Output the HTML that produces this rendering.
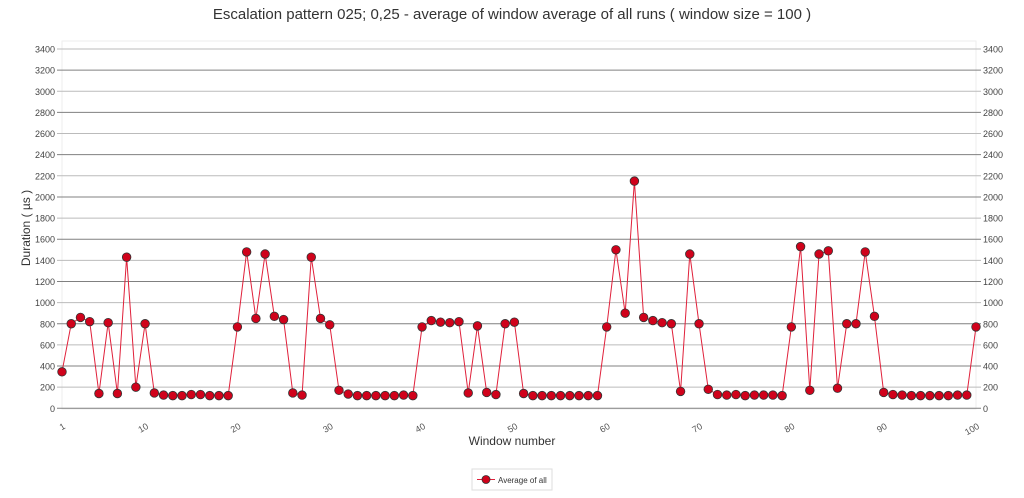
<!DOCTYPE html>
<html><head><meta charset="utf-8"><style>
body{margin:0;background:#fff;font-family:"Liberation Sans",sans-serif}
</style></head><body>
<svg id="s" width="1024" height="493" xmlns="http://www.w3.org/2000/svg" font-family="Liberation Sans, sans-serif">
<text x="512" y="19" text-anchor="middle" font-size="15" fill="#333">Escalation pattern 025; 0,25 - average of window average of all runs ( window size = 100 )</text>
<rect x="62" y="41" width="914" height="368" fill="none" stroke="#eee"/>
<g id="grid"></g>
<g id="ser"></g>
<text x="512" y="445" text-anchor="middle" font-size="12" fill="#333">Window number</text>
<text transform="translate(30,228) rotate(-90)" text-anchor="middle" font-size="12" fill="#333">Duration ( µs )</text>
<rect x="472" y="469" width="80" height="21" fill="#fff" stroke="#ddd"/>
<line x1="477" y1="479.5" x2="495" y2="479.5" stroke="#e0203a" stroke-width="1"/>
<circle cx="486" cy="479.5" r="4" fill="#d0021b" stroke="#333" stroke-width="0.8"/>
<text x="498" y="483" font-size="8" fill="#333">Average of all</text>
</svg>
<script>
var NS="http://www.w3.org/2000/svg";
function el(t,a,p,txt){var e=document.createElementNS(NS,t);for(var k in a)e.setAttribute(k,a[k]);if(txt!=null)e.textContent=txt;p.appendChild(e);return e;}
var g=document.getElementById('grid'),s=document.getElementById('ser');
var y0=408.3,k=359.3/3400;
function Y(v){return y0-v*k;}
for(var v=0;v<=3400;v+=200){var y=Y(v);
el('line',{x1:57,x2:981,y1:y,y2:y,stroke:(v/200)%2?'#bbb':'#808080','stroke-width':1},g);
el('text',{x:55,y:y+3.5,'text-anchor':'end','font-size':9,fill:'#444'},g,v);
el('text',{x:983,y:y+3.5,'font-size':9,fill:'#444'},g,v);}
var d=[345,800,860,820,140,810,140,1430,200,800,145,125,120,120,130,130,120,120,120,770,1480,850,1460,870,840,145,125,1430,850,790,170,135,120,120,120,120,120,125,120,770,830,815,810,820,145,780,150,130,800,815,140,120,120,120,120,120,120,120,120,770,1500,900,2150,860,830,810,800,160,1460,800,180,130,125,130,120,125,125,125,120,770,1530,170,1460,1490,190,800,800,1480,870,150,130,125,120,120,120,120,120,125,125,770];
function X(i){return 62+i*(914/99);}
var pts=d.map(function(v,i){return X(i)+','+Y(v)}).join(' ');
el('polyline',{points:pts,fill:'none',stroke:'#e0203a','stroke-width':1},s);
d.forEach(function(v,i){el('circle',{cx:X(i),cy:Y(v),r:4.3,fill:'#d0021b',stroke:'#333','stroke-width':0.8},s);});
[1,10,20,30,40,50,60,70,80,90,100].forEach(function(n){var x=X(n-1);
el('text',{x:0,y:0,'text-anchor':'end','font-size':9,fill:'#555',transform:'translate('+(x+4)+',428) rotate(-30)'},g,n);});
</script>
</body></html>
